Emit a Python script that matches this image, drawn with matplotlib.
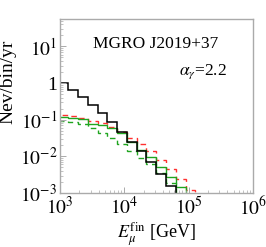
import matplotlib
matplotlib.use("Agg")
import matplotlib.pyplot as plt
import numpy as np
from matplotlib.ticker import FixedLocator, LogLocator, NullFormatter

plt.rcParams["font.family"] = ["Liberation Serif", "DejaVu Serif"]
plt.rcParams["mathtext.fontset"] = "stix"

# bin edges in GeV (log spaced)
EDGES = [950, 1340, 1900, 2700, 3840, 5450, 7730, 10960, 15560, 22080,
         31330, 44460, 63100, 89540, 127060, 180300]

# events per bin per year
BLACK = [1.0, 0.65, 0.42, 0.255, 0.15, 0.084, 0.045, 0.024, 0.0136, 0.0069,
         0.0033, 0.00157, 0.0006]
GREEN = [0.119, 0.110, 0.103, 0.0785, 0.072, 0.058, 0.043, 0.025, 0.0149,
         0.0099, 0.0051, 0.00265, 0.0015, 0.0006]
GREEN_DASH = [0.093, 0.087, 0.075, 0.058, 0.043, 0.032, 0.0219, 0.0144,
              0.0093, 0.006, 0.0035, 0.0019, 0.0008]
RED_DASH = [0.135, 0.125, 0.112, 0.094, 0.080, 0.062, 0.047, 0.031, 0.0219,
            0.0138, 0.0082, 0.0044, 0.00234, 0.0012, 0.0005]

GRID = "#aaaaaa"
RED = "#ff3030"
GRN = "#1fa51f"

fig = plt.figure(figsize=(2.66, 2.47), dpi=100)
ax = fig.add_axes([0.2256, 0.2186, 0.7254, 0.7044])

ax.stairs(RED_DASH, EDGES[:len(RED_DASH) + 1], color=RED, lw=1.0,
          linestyle=(0, (4, 3)))
ax.stairs(GREEN_DASH, EDGES[:len(GREEN_DASH) + 1], color=GRN, lw=1.0,
          linestyle=(0, (4, 3)))
ax.stairs(GREEN, EDGES[:len(GREEN) + 1], color=GRN, lw=1.0)
ax.stairs(BLACK, EDGES[:len(BLACK) + 1], color="black", lw=1.1)

ax.set_xscale("log")
ax.set_yscale("log")
ax.set_xlim(1e3, 1e6)
ax.set_ylim(1e-3, 56)

ax.xaxis.set_major_locator(FixedLocator([1e3, 1e4, 1e5, 1e6]))
ax.set_xticklabels([r"$10^3$", r"$10^4$", r"$10^5$", r"$10^6$"])
ax.xaxis.set_minor_locator(LogLocator(base=10, subs=np.arange(2, 10)))
ax.xaxis.set_minor_formatter(NullFormatter())
ax.yaxis.set_major_locator(FixedLocator([1e-3, 1e-2, 1e-1, 1, 10]))
ax.set_yticklabels([r"$10^{-3}$", r"$10^{-2}$", r"$10^{-1}$", "1", r"$10^1$"])
ax.yaxis.set_minor_locator(LogLocator(base=10, subs=np.arange(2, 10)))
ax.yaxis.set_minor_formatter(NullFormatter())

for s in ax.spines.values():
    s.set_color(GRID)
    s.set_linewidth(1.0)
ax.tick_params(which="both", direction="in", color=GRID, labelsize=14,
               top=False, right=False, pad=2)
ax.tick_params(which="major", length=4, width=0.7)
ax.tick_params(which="minor", length=2, width=0.5)

ax.set_xlabel(r"$E_\mu^{\rm fin}$ [GeV]", fontsize=13, labelpad=1)
ax.set_ylabel("Nev/bin/yr", fontsize=14)
ax.yaxis.set_label_coords(-0.225, 0.64)

ax.text(0.82, 0.855, "MGRO J2019+37", transform=ax.transAxes, fontsize=12.5,
        ha="right", va="center")
ax.text(0.865, 0.70, r"$\alpha_\gamma$=2.2", transform=ax.transAxes,
        fontsize=12.5, ha="right", va="center")

fig.savefig("out.png", dpi=100)
